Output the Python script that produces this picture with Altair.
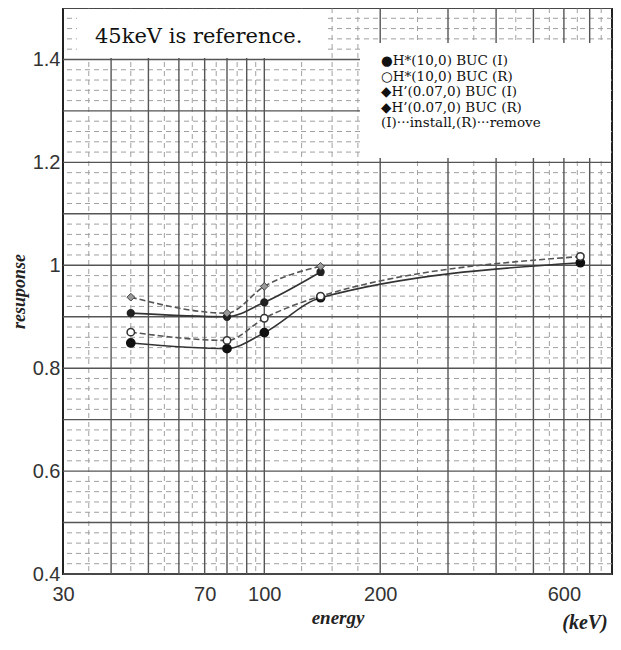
import altair as alt
import pandas as pd

# ---- data ----
energy_hs = [45, 80, 100, 140, 662]
hs_install = [0.849, 0.838, 0.869, 0.937, 1.005]
hs_remove = [0.870, 0.854, 0.897, 0.940, 1.017]

energy_hp = [45, 80, 100, 140]
hp_install = [0.907, 0.900, 0.928, 0.987]
hp_remove = [0.938, 0.907, 0.959, 0.998]

x_ticks = [30, 70, 100, 200, 600]
y_ticks = [0.4, 0.6, 0.8, 1.0, 1.2, 1.4]

legend_lines = [
    "●H*(10,0) BUC (I)",
    "○H*(10,0) BUC (R)",
    "◆H’(0.07,0) BUC (I)",
    "◆H’(0.07,0) BUC (R)",
    "(I)···install,(R)···remove",
]
note_text = "45keV is reference."

# graph-paper grid positions
grid_y_major = [round(0.4 + 0.1 * i, 2) for i in range(12)]
grid_y_minor = [round(0.4 + 0.02 * i, 2) for i in range(56) if i % 5 != 0]
grid_x_major = [40, 50, 60, 70, 80, 90, 100, 200, 300, 400, 500, 600, 700]
grid_x_minor = [35, 45, 55, 65, 75, 85, 95, 125, 150, 175, 250, 350, 450, 550, 650, 750]

W, H = 549, 566

x_scale = alt.Scale(type="log", domain=[30, 800], nice=False)
y_scale = alt.Scale(domain=[0.4, 1.5], nice=False, zero=False)

x_axis = alt.Axis(values=x_ticks, format="d", grid=False, ticks=False, domain=False,
                  labelFont="Liberation Sans", labelFontSize=20, labelColor="#333",
                  labelPadding=10, title="energy", titleFont="Liberation Serif",
                  titleFontStyle="italic", titleFontWeight="bold", titleFontSize=19,
                  titleColor="#222", titlePadding=4, labelFlush=False)
y_axis = alt.Axis(values=y_ticks, format="~g", grid=False, ticks=False, domain=False,
                  labelFont="Liberation Sans", labelFontSize=20, labelColor="#333",
                  labelPadding=3, title="resuponse", titleFont="Liberation Serif",
                  titleFontStyle="italic", titleFontWeight="bold", titleFontSize=18,
                  titleColor="#222", titlePadding=4)

X = lambda f: alt.X(f, type="quantitative", scale=x_scale, axis=x_axis)
Y = lambda f: alt.Y(f, type="quantitative", scale=y_scale, axis=y_axis)

layers = []

# grid
layers.append(alt.Chart(pd.DataFrame({"v": grid_y_minor})).mark_rule(
    color="#a0a0a0", strokeWidth=1, strokeDash=[5, 4]).encode(y=Y("v")))
layers.append(alt.Chart(pd.DataFrame({"e": grid_x_minor})).mark_rule(
    color="#a0a0a0", strokeWidth=1, strokeDash=[5, 4]).encode(x=X("e")))
layers.append(alt.Chart(pd.DataFrame({"v": grid_y_major})).mark_rule(
    color="#555", strokeWidth=1.4).encode(y=Y("v")))
layers.append(alt.Chart(pd.DataFrame({"e": grid_x_major})).mark_rule(
    color="#555", strokeWidth=1.4).encode(x=X("e")))

# series
series = [
    (energy_hs, hs_install, "solid", dict(shape="circle", filled=True, fill="#111", stroke="#111", size=60)),
    (energy_hs, hs_remove, "dash", dict(shape="circle", filled=False, fill="white", stroke="#333", strokeWidth=1.5, size=55)),
    (energy_hp, hp_install, "solid", dict(shape="circle", filled=True, fill="#222", stroke="#222", size=40)),
    (energy_hp, hp_remove, "dash", dict(shape="diamond", filled=True, fill="#999", stroke="#444", strokeWidth=1, size=60)),
]
for en, vals, style, pt in series:
    d = pd.DataFrame({"energy": en, "response": vals})
    line_kw = dict(interpolate="monotone", color="#333", strokeWidth=1.6)
    if style == "dash":
        line_kw.update(strokeDash=[6, 3], color="#555")
    layers.append(alt.Chart(d).mark_line(**line_kw).encode(x=X("energy"), y=Y("response")))
    layers.append(alt.Chart(d).mark_point(opacity=1, **pt).encode(x=X("energy"), y=Y("response")))

# note box
one = pd.DataFrame({"a": [0]})
layers.append(alt.Chart(one).mark_rect(fill="white").encode(
    x=alt.value(14), x2=alt.value(262), y=alt.value(1), y2=alt.value(50)))
layers.append(alt.Chart(pd.DataFrame({"t": [note_text]})).mark_text(
    align="left", baseline="alphabetic", font="DejaVu Serif", fontSize=21, color="#111").encode(
    text="t:N", x=alt.value(32), y=alt.value(35)))

# legend box
layers.append(alt.Chart(one).mark_rect(fill="white").encode(
    x=alt.value(297), x2=alt.value(548), y=alt.value(35), y2=alt.value(150)))
for i, line in enumerate(legend_lines):
    layers.append(alt.Chart(pd.DataFrame({"t": [line]})).mark_text(
        align="left", baseline="middle", font="DejaVu Serif", fontSize=13.5,
        color="#111").encode(text="t:N", x=alt.value(318), y=alt.value(53 + 15.5 * i)))

# unit label
layers.append(alt.Chart(pd.DataFrame({"t": ["(keV)"]})).mark_text(
    align="center", baseline="middle", font="Liberation Serif", fontStyle="italic",
    fontWeight="bold", fontSize=20, color="#222").encode(
    text="t:N", x=alt.value(522), y=alt.value(615)))

chart = alt.layer(*layers).properties(
    width=W, height=H,
    autosize=alt.AutoSizeParams(type="none"),
    padding={"left": 55, "top": 0, "right": 1, "bottom": 60},
).configure_view(stroke="#222", strokeWidth=2)

chart.save("out.html", embed_options={"renderer": "svg", "actions": False})
